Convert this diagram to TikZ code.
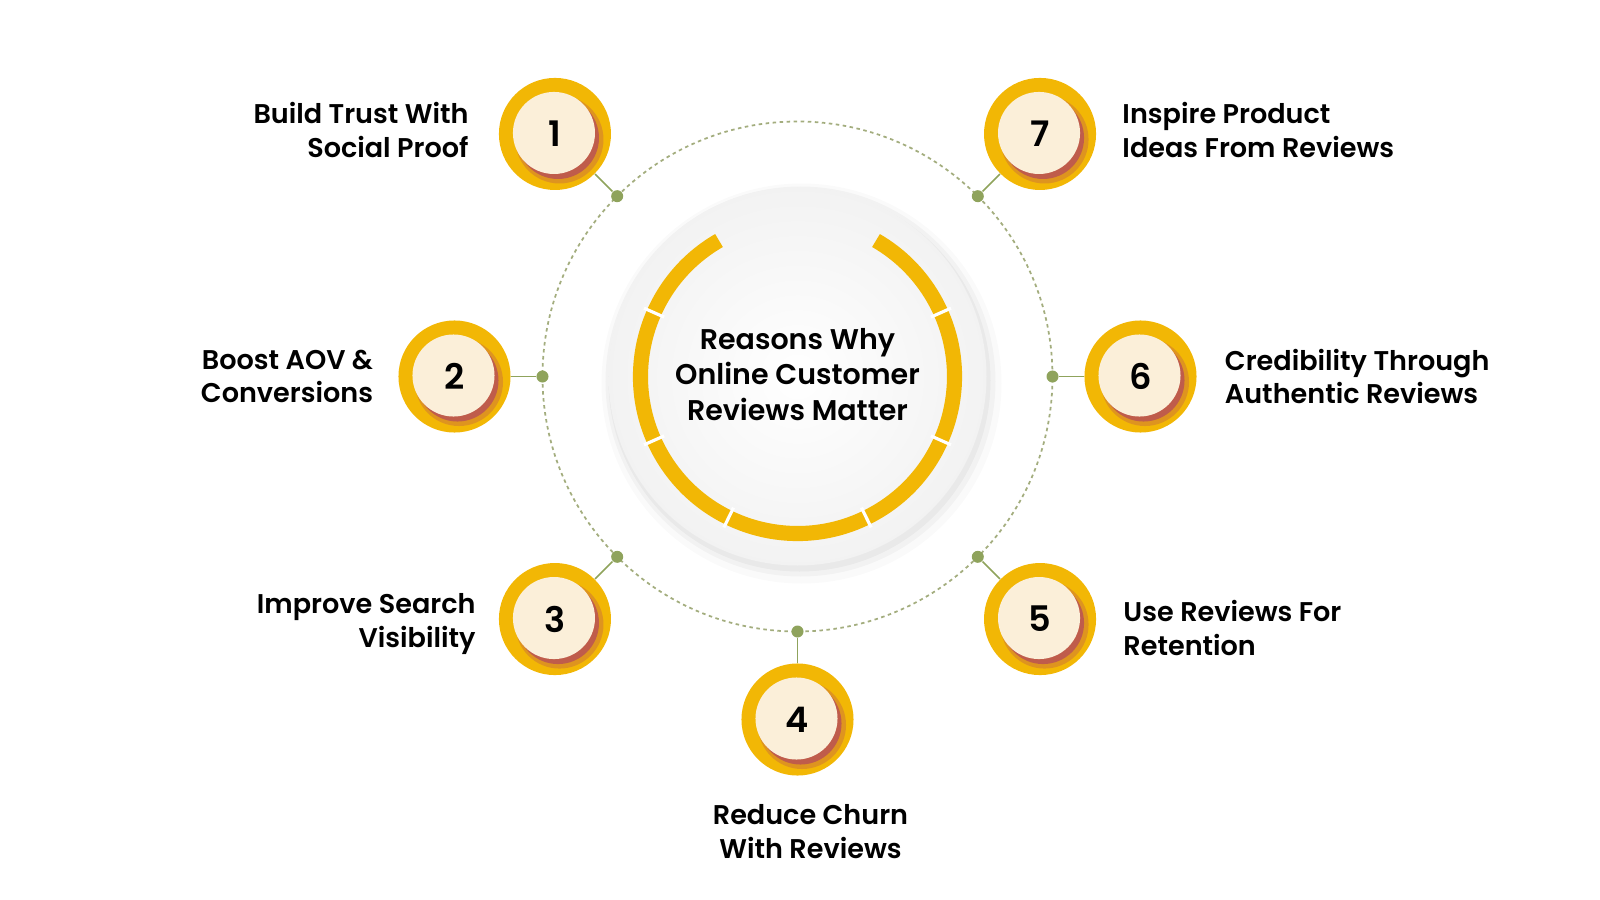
\documentclass[tikz,border=0pt]{standalone}
\usepackage{fontspec}
\setmainfont{Poppins}[BoldFont={Poppins SemiBold}]
\usetikzlibrary{positioning}
\definecolor{gold}{HTML}{F2B705}
\definecolor{cream}{HTML}{FBEFD9}
\definecolor{berry}{HTML}{B2455E}
\definecolor{olive}{HTML}{8FA35C}
\definecolor{dotline}{HTML}{A3AD7E}

\tikzset{
  numdisc/.style={circle, fill=gold, minimum size=1.12cm, inner sep=0pt,
    font=\fontsize{10}{12}\selectfont\bfseries,
    path picture={
      \fill[berry, opacity=0.3] (path picture bounding box.center) ++(0.045cm,-0.055cm) circle (0.44cm);
      \fill[berry, opacity=0.7] (path picture bounding box.center) ++(0.03cm,-0.04cm) circle (0.41cm);
      \fill[cream] (path picture bounding box.center) ++(-0.01cm,0.01cm) circle (0.41cm);}},
  reason/.style={inner sep=0pt, font=\fontsize{7.7}{9.6}\selectfont\bfseries},
  hub/.style={circle, fill=olive, minimum size=0.12cm, inner sep=0pt},
  link/.style={olive, line width=0.5pt}
}

\begin{document}
\begin{tikzpicture}[x=0.01cm, y=0.01cm]
  \useasboundingbox (-797.5,-523.5) rectangle (802.5,376.5);

  % centre disc with soft shadow
  \fill[black, opacity=0.02] (4,-7) circle (200);
  \fill[black, opacity=0.03] (3,-5) circle (195);
  \fill[black, opacity=0.04] (2,-4) circle (191);
  \shade[inner color=white, outer color=gray!10] (0,0) circle (189);

  % segmented ring
  \draw[gold, line width=4.3pt] (120:157) arc[start angle=120, end angle=420, radius=157];
  \draw[white, line width=0.9pt] (156:146) -- (156:168) (204:146) -- (204:168)
    (244:146) -- (244:168) (296:146) -- (296:168) (336:146) -- (336:168) (24:146) -- (24:168);

  \node[align=center, inner sep=0pt, font=\fontsize{8.1}{10.2}\selectfont\bfseries] (title)
    at (0,2) {Reasons Why\\Online Customer\\Reviews Matter};

  % dotted orbit
  \draw[dotline, line width=0.5pt, dash pattern=on 1pt off 1pt] (0,0) circle (255);

  \node[hub] (d1) at (135:255) {};
  \node[hub] (d2) at (180:255) {};
  \node[hub] (d3) at (225:255) {};
  \node[hub] (d4) at (270:255) {};
  \node[hub] (d5) at (315:255) {};
  \node[hub] (d6) at (0:255) {};
  \node[hub] (d7) at (45:255) {};

  \node[numdisc] (n1) at (135:343) {1};
  \node[numdisc] (n2) at (180:343) {2};
  \node[numdisc] (n3) at (225:343) {3};
  \node[numdisc] (n4) at (270:343) {4};
  \node[numdisc] (n5) at (315:343) {5};
  \node[numdisc] (n6) at (0:343) {6};
  \node[numdisc] (n7) at (45:343) {7};

  \draw[link] (d1) -- (n1);
  \draw[link] (d2) -- (n2);
  \draw[link] (d3) -- (n3);
  \draw[link] (d4) -- (n4);
  \draw[link] (d5) -- (n5);
  \draw[link] (d6) -- (n6);
  \draw[link] (d7) -- (n7);

  \node[reason, align=right, left=0.29cm of n1, yshift=0.04cm] (l1) {Build Trust With\\Social Proof};
  \node[reason, align=right, left=0.24cm of n2] (l2) {Boost AOV \&\\Conversions};
  \node[reason, align=right, left=0.22cm of n3, yshift=-0.05cm] (l3) {Improve Search\\Visibility};
  \node[reason, align=center, below=0.28cm of n4, xshift=0.13cm] (l4) {Reduce Churn\\With Reviews};
  \node[reason, align=left, right=0.26cm of n5, yshift=-0.09cm] (l5) {Use Reviews For\\Retention};
  \node[reason, align=left, right=0.27cm of n6] (l6) {Credibility Through\\Authentic Reviews};
  \node[reason, align=left, right=0.25cm of n7, yshift=0.04cm] (l7) {Inspire Product\\Ideas From Reviews};
\end{tikzpicture}
\end{document}
